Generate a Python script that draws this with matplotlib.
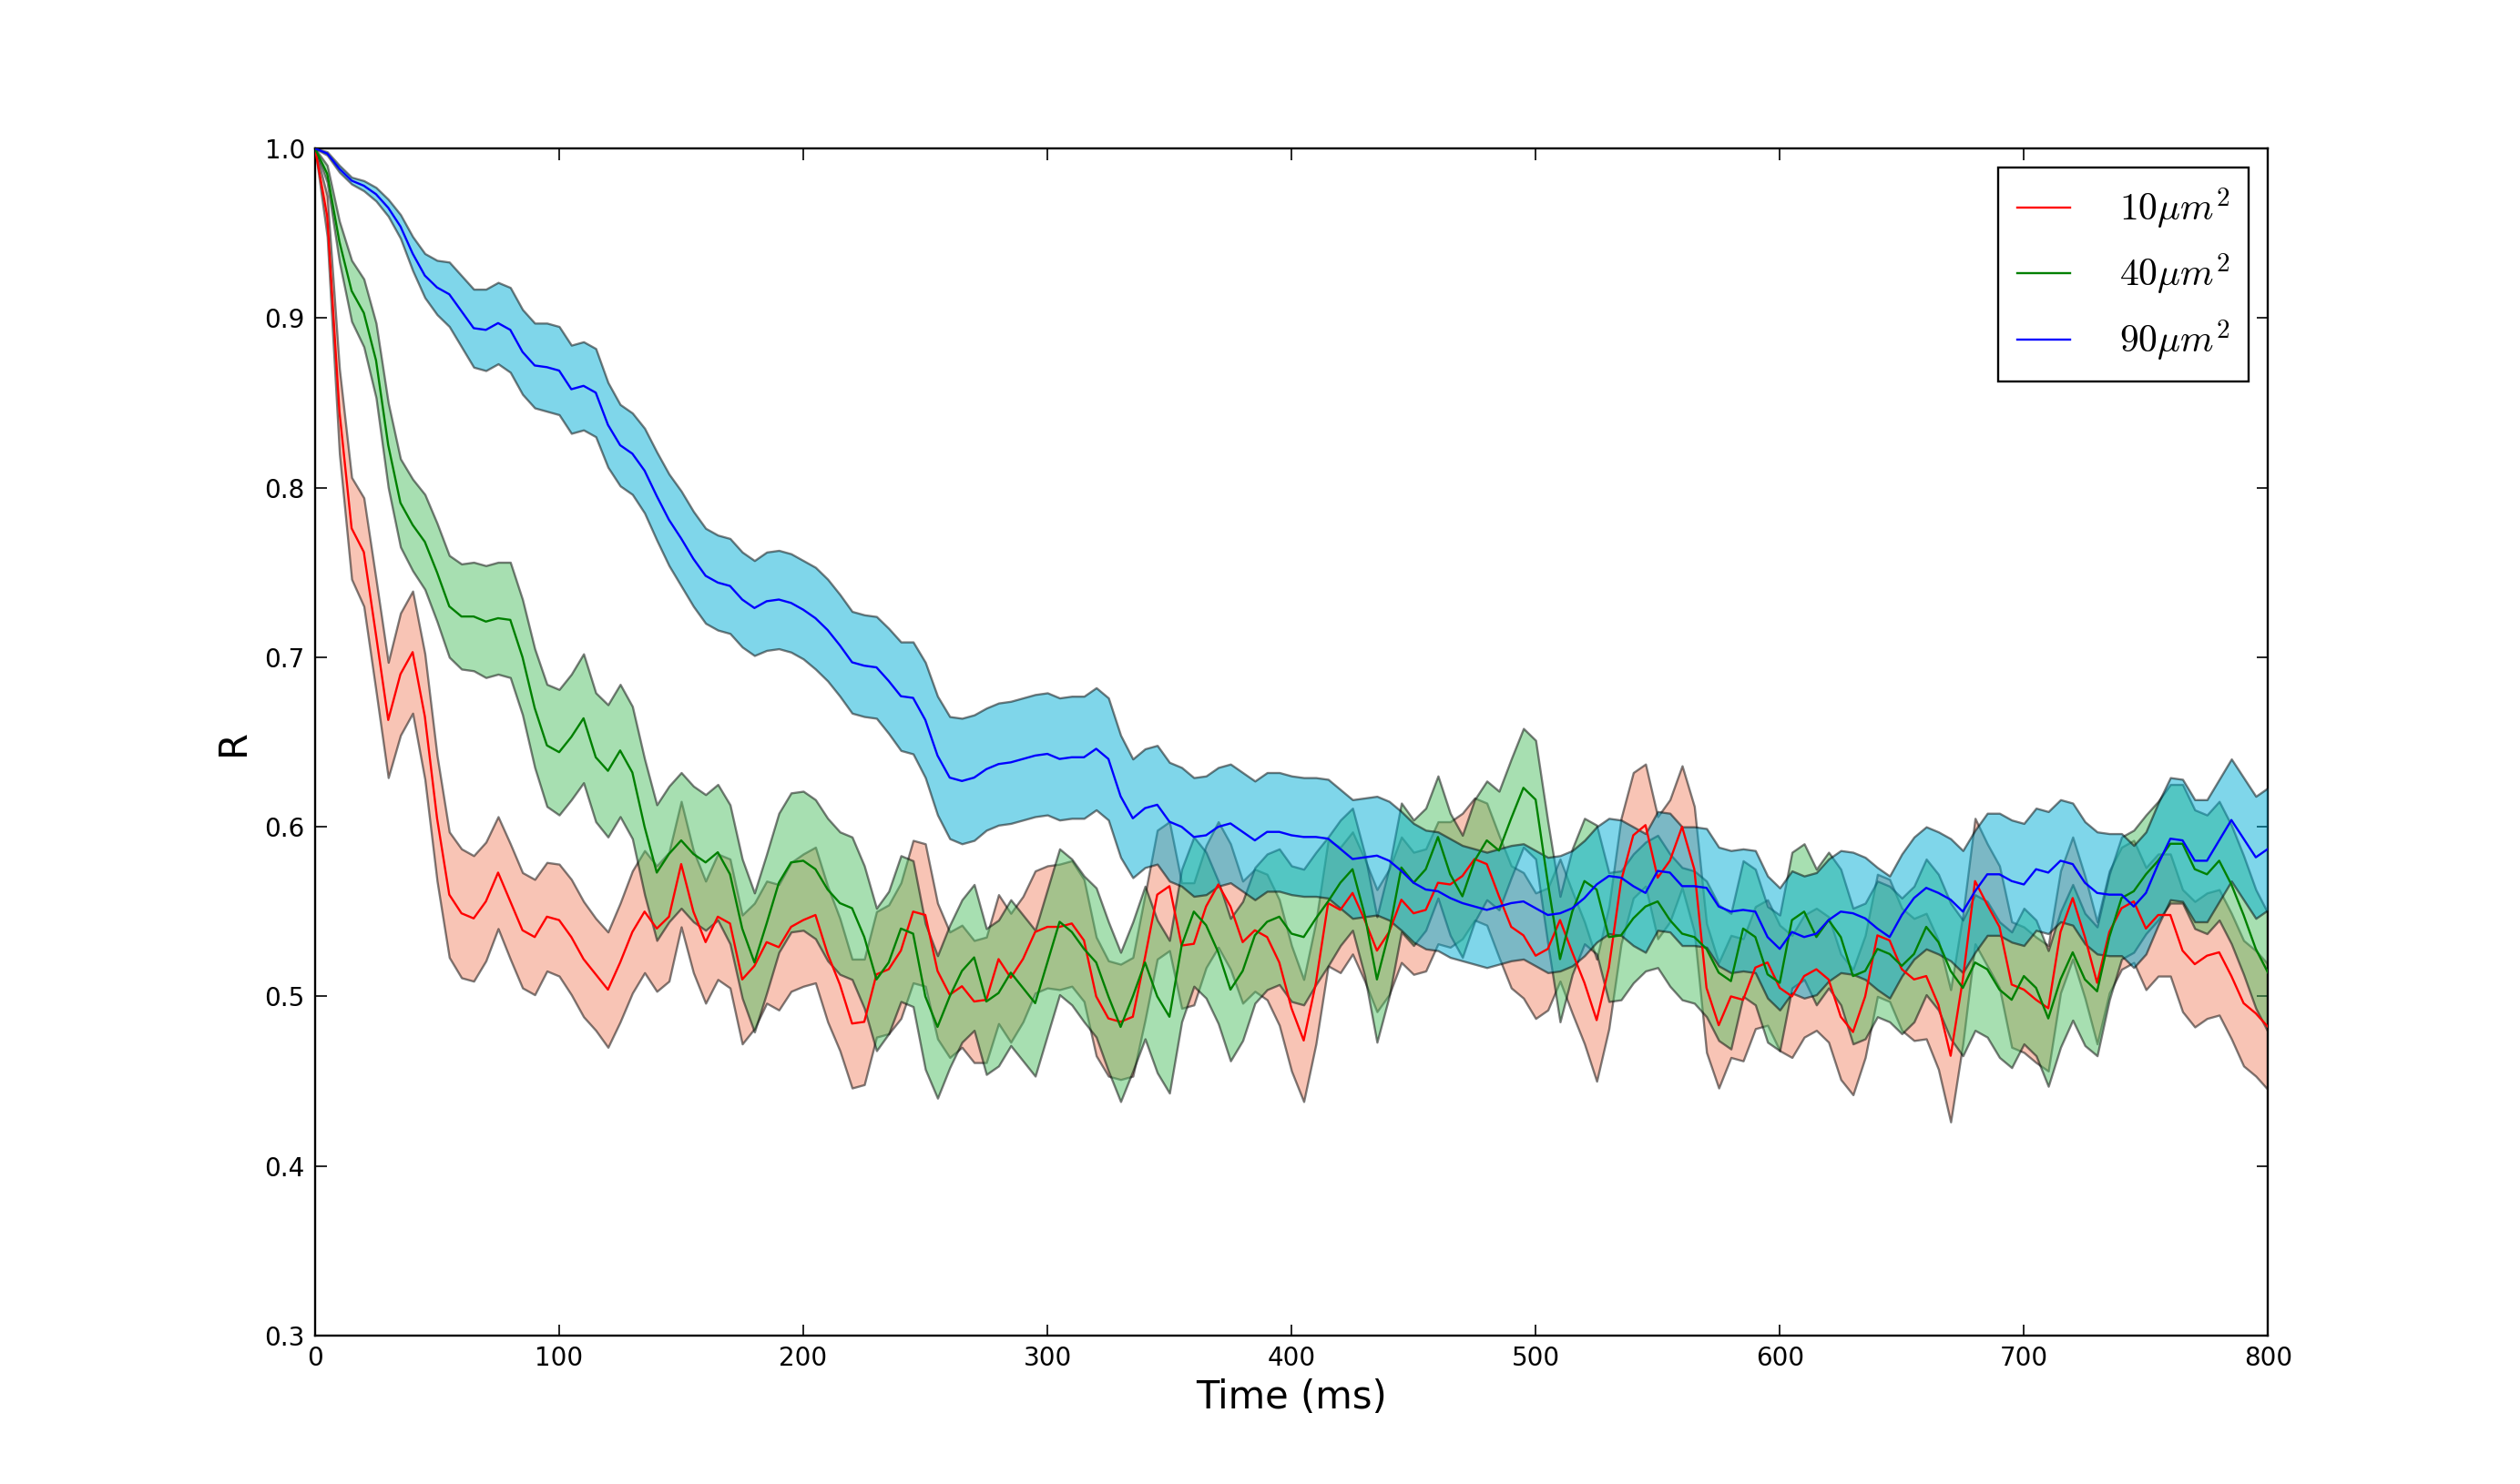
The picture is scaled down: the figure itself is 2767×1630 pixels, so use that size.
import numpy as np
import matplotlib
matplotlib.use('Agg')
import matplotlib.pyplot as plt

# ---------------- data (R vs time, every 5 ms) ----------------
time_ms = list(range(0, 801, 5))

red_mean = [
    1.0, 0.96, 0.845, 0.776, 0.762, 0.713, 0.663, 0.69, 0.703, 0.665,
    0.605, 0.56, 0.549, 0.546, 0.556, 0.573, 0.556, 0.539, 0.535, 0.547,
    0.545, 0.535, 0.522, 0.513, 0.504, 0.52, 0.538, 0.55, 0.54, 0.547,
    0.578, 0.55, 0.532, 0.547, 0.543, 0.51, 0.518, 0.532, 0.529, 0.541,
    0.545, 0.548, 0.525, 0.507, 0.484, 0.485, 0.513, 0.516, 0.527, 0.55,
    0.548, 0.515, 0.501, 0.506, 0.497, 0.498, 0.522, 0.511, 0.522, 0.538,
    0.541, 0.541, 0.543, 0.533, 0.50, 0.487, 0.485, 0.488, 0.523, 0.56,
    0.565, 0.53, 0.531, 0.553, 0.566, 0.553, 0.532, 0.539, 0.535, 0.52,
    0.493, 0.474, 0.508, 0.555, 0.551, 0.561, 0.545, 0.527, 0.538, 0.557,
    0.549, 0.551, 0.567, 0.566, 0.571, 0.581, 0.578, 0.559, 0.541, 0.536,
    0.524, 0.528, 0.545, 0.526, 0.508, 0.486, 0.517, 0.568, 0.595, 0.601,
    0.57, 0.58, 0.60, 0.575, 0.505, 0.483, 0.50, 0.498, 0.517, 0.52,
    0.505, 0.50, 0.512, 0.516, 0.51, 0.488, 0.479, 0.50, 0.536, 0.533,
    0.516, 0.51, 0.512, 0.495, 0.465, 0.51, 0.568, 0.554, 0.541, 0.507,
    0.504, 0.498, 0.493, 0.538, 0.558, 0.535, 0.508, 0.538, 0.552, 0.556,
    0.54, 0.548, 0.548, 0.527, 0.519, 0.524, 0.526, 0.512, 0.496, 0.49,
    0.482,
]
red_err = [
    0.0, 0.012, 0.025, 0.03, 0.032, 0.033, 0.034, 0.036, 0.036, 0.037,
    0.037, 0.037, 0.038, 0.037, 0.035, 0.033, 0.034, 0.034, 0.034, 0.032,
    0.033, 0.034, 0.034, 0.033, 0.034, 0.035, 0.036, 0.036, 0.037, 0.038,
    0.037, 0.036, 0.036, 0.037, 0.038, 0.038, 0.037, 0.036, 0.037, 0.038,
    0.039, 0.04, 0.04, 0.039, 0.038, 0.037, 0.037, 0.038, 0.04, 0.042,
    0.042, 0.04, 0.037, 0.036, 0.036, 0.037, 0.038, 0.038, 0.037, 0.036,
    0.036, 0.037, 0.037, 0.036, 0.035, 0.034, 0.034, 0.035, 0.037, 0.038,
    0.038, 0.037, 0.036, 0.036, 0.037, 0.037, 0.036, 0.036, 0.037, 0.037,
    0.037, 0.036, 0.036, 0.037, 0.037, 0.036, 0.036, 0.036, 0.037, 0.037,
    0.036, 0.036, 0.036, 0.037, 0.037, 0.036, 0.036, 0.036, 0.036, 0.037,
    0.037, 0.036, 0.036, 0.036, 0.036, 0.036, 0.036, 0.037, 0.037, 0.036,
    0.036, 0.036, 0.036, 0.037, 0.038, 0.037, 0.036, 0.036, 0.036, 0.037,
    0.037, 0.036, 0.036, 0.036, 0.037, 0.037, 0.037, 0.036, 0.036, 0.036,
    0.036, 0.036, 0.037, 0.038, 0.039, 0.038, 0.037, 0.036, 0.036, 0.037,
    0.037, 0.037, 0.037, 0.036, 0.036, 0.036, 0.036, 0.036, 0.036, 0.036,
    0.036, 0.036, 0.036, 0.036, 0.037, 0.037, 0.037, 0.037, 0.037, 0.037,
    0.037,
]

green_mean = [
    1.0, 0.985, 0.945, 0.916, 0.903, 0.875, 0.825, 0.791, 0.778, 0.768,
    0.75, 0.73, 0.724, 0.724, 0.721, 0.723, 0.722, 0.70, 0.67, 0.648,
    0.644, 0.653, 0.664, 0.641, 0.633, 0.645, 0.632, 0.60, 0.573, 0.584,
    0.592, 0.584, 0.579, 0.585, 0.572, 0.54, 0.52, 0.543, 0.567, 0.579,
    0.58, 0.575, 0.563, 0.555, 0.552, 0.535, 0.51, 0.52, 0.54, 0.537,
    0.50, 0.482, 0.50, 0.515, 0.523, 0.497, 0.502, 0.514, 0.505, 0.496,
    0.52, 0.544, 0.538, 0.528, 0.52, 0.50, 0.482, 0.50, 0.52, 0.50,
    0.488, 0.53, 0.55, 0.542, 0.526, 0.504, 0.515, 0.536, 0.544, 0.547,
    0.537, 0.535, 0.546, 0.556, 0.567, 0.575, 0.548, 0.51, 0.538, 0.576,
    0.567, 0.575, 0.594, 0.572, 0.559, 0.58, 0.592, 0.586, 0.605, 0.623,
    0.616, 0.567, 0.522, 0.55, 0.568, 0.563, 0.535, 0.536, 0.546, 0.553,
    0.556, 0.545, 0.537, 0.535, 0.528, 0.514, 0.509, 0.54, 0.535, 0.513,
    0.508, 0.545, 0.55, 0.535, 0.545, 0.535, 0.512, 0.515, 0.528, 0.525,
    0.518, 0.525, 0.541, 0.532, 0.515, 0.505, 0.52, 0.516, 0.504, 0.498,
    0.512, 0.505, 0.487, 0.51, 0.526, 0.51, 0.503, 0.535, 0.558, 0.562,
    0.572, 0.58, 0.59, 0.59, 0.575, 0.572, 0.58, 0.566, 0.548, 0.528,
    0.514,
]
green_err = [
    0.0, 0.005, 0.012, 0.018, 0.02, 0.022, 0.025, 0.026, 0.027, 0.028,
    0.029, 0.03, 0.031, 0.032, 0.033, 0.033, 0.034, 0.034, 0.035, 0.036,
    0.037, 0.037, 0.038, 0.038, 0.039, 0.039, 0.039, 0.04, 0.04, 0.04,
    0.04, 0.04, 0.04, 0.04, 0.041, 0.041, 0.041, 0.041, 0.041, 0.041,
    0.041, 0.041, 0.042, 0.042, 0.042, 0.042, 0.042, 0.042, 0.043, 0.043,
    0.043, 0.042, 0.042, 0.042, 0.043, 0.043, 0.043, 0.043, 0.043, 0.043,
    0.043, 0.043, 0.043, 0.043, 0.044, 0.044, 0.044, 0.044, 0.045, 0.045,
    0.045, 0.045, 0.044, 0.043, 0.042, 0.042, 0.041, 0.04, 0.04, 0.04,
    0.04, 0.04, 0.039, 0.038, 0.037, 0.036, 0.036, 0.037, 0.038, 0.038,
    0.037, 0.036, 0.036, 0.036, 0.036, 0.036, 0.035, 0.035, 0.035, 0.035,
    0.035, 0.036, 0.037, 0.037, 0.037, 0.038, 0.038, 0.038, 0.038, 0.038,
    0.039, 0.039, 0.039, 0.039, 0.04, 0.04, 0.04, 0.04, 0.04, 0.04,
    0.04, 0.04, 0.04, 0.04, 0.04, 0.04, 0.04, 0.04, 0.04, 0.04,
    0.04, 0.04, 0.04, 0.04, 0.04, 0.04, 0.04, 0.04, 0.04, 0.04,
    0.04, 0.04, 0.04, 0.04, 0.04, 0.039, 0.038, 0.037, 0.036, 0.036,
    0.035, 0.035, 0.035, 0.035, 0.035, 0.035, 0.035, 0.035, 0.035, 0.035,
    0.035,
]

blue_mean = [
    1.0, 0.997, 0.988, 0.981, 0.978, 0.973, 0.965, 0.954, 0.938, 0.925,
    0.918, 0.914, 0.904, 0.894, 0.893, 0.897, 0.893, 0.88, 0.872, 0.871,
    0.869, 0.858, 0.86, 0.856, 0.837, 0.825, 0.82, 0.81, 0.795, 0.781,
    0.77, 0.758, 0.748, 0.744, 0.742, 0.734, 0.729, 0.733, 0.734, 0.732,
    0.728, 0.723, 0.716, 0.707, 0.697, 0.695, 0.694, 0.686, 0.677, 0.676,
    0.663, 0.642, 0.629, 0.627, 0.629, 0.634, 0.637, 0.638, 0.64, 0.642,
    0.643, 0.64, 0.641, 0.641, 0.646, 0.64, 0.618, 0.605, 0.611, 0.613,
    0.603, 0.60, 0.594, 0.595, 0.60, 0.602, 0.597, 0.592, 0.597, 0.597,
    0.595, 0.594, 0.594, 0.593, 0.587, 0.581, 0.582, 0.583, 0.58, 0.574,
    0.567, 0.563, 0.562, 0.558, 0.555, 0.553, 0.551, 0.553, 0.555, 0.556,
    0.552, 0.548, 0.549, 0.552, 0.558, 0.566, 0.571, 0.57, 0.565, 0.561,
    0.574, 0.573, 0.565, 0.565, 0.564, 0.553, 0.55, 0.551, 0.55, 0.535,
    0.528, 0.538, 0.535, 0.537, 0.545, 0.55, 0.549, 0.546, 0.54, 0.535,
    0.548, 0.558, 0.564, 0.561, 0.557, 0.55, 0.562, 0.572, 0.572, 0.568,
    0.566, 0.575, 0.573, 0.58, 0.578, 0.567, 0.561, 0.56, 0.56, 0.553,
    0.561, 0.578, 0.593, 0.592, 0.58, 0.58, 0.592, 0.604, 0.593, 0.582,
    0.587,
]
blue_err = [
    0.0, 0.001, 0.002, 0.002, 0.003, 0.004, 0.005, 0.007, 0.01, 0.013,
    0.016, 0.019, 0.021, 0.023, 0.024, 0.024, 0.025, 0.025, 0.025, 0.026,
    0.026, 0.026, 0.026, 0.026, 0.025, 0.024, 0.024, 0.025, 0.026, 0.027,
    0.028, 0.028, 0.028, 0.028, 0.028, 0.028, 0.028, 0.029, 0.029, 0.029,
    0.029, 0.03, 0.03, 0.03, 0.03, 0.03, 0.03, 0.031, 0.032, 0.033,
    0.034, 0.035, 0.036, 0.037, 0.037, 0.036, 0.036, 0.036, 0.036, 0.036,
    0.036, 0.036, 0.036, 0.036, 0.036, 0.036, 0.036, 0.035, 0.035, 0.035,
    0.035, 0.035, 0.035, 0.035, 0.035, 0.035, 0.035, 0.035, 0.035, 0.035,
    0.035, 0.035, 0.035, 0.035, 0.035, 0.035, 0.035, 0.035, 0.035, 0.035,
    0.035, 0.035, 0.035, 0.035, 0.034, 0.034, 0.034, 0.034, 0.034, 0.034,
    0.034, 0.034, 0.034, 0.034, 0.034, 0.034, 0.034, 0.034, 0.035, 0.035,
    0.035, 0.035, 0.035, 0.035, 0.035, 0.035, 0.036, 0.036, 0.036, 0.036,
    0.036, 0.036, 0.036, 0.036, 0.036, 0.036, 0.036, 0.036, 0.036, 0.036,
    0.036, 0.036, 0.036, 0.036, 0.036, 0.036, 0.036, 0.036, 0.036, 0.036,
    0.036, 0.036, 0.036, 0.036, 0.036, 0.036, 0.036, 0.036, 0.036, 0.036,
    0.036, 0.036, 0.036, 0.036, 0.036, 0.036, 0.036, 0.036, 0.036, 0.036,
    0.036,
]

labels = [r'$10\mu m^2$', r'$40\mu m^2$', r'$90\mu m^2$']
x_ticks = [0, 100, 200, 300, 400, 500, 600, 700, 800]
y_ticks = [0.3, 0.4, 0.5, 0.6, 0.7, 0.8, 0.9, 1.0]
y_tick_labels = ['0.3', '0.4', '0.5', '0.6', '0.7', '0.8', '0.9', '1.0']

# ---------------- plotting ----------------
plt.rcParams['mathtext.fontset'] = 'cm'

fig = plt.figure(figsize=(27.67, 16.30), dpi=100)
ax = fig.add_axes([0.125, 0.1, 0.775, 0.8])

t = np.array(time_ms, dtype=float)
series = [
    (np.array(red_mean), np.array(red_err), '#ff0000', '#f38b6d'),
    (np.array(green_mean), np.array(green_err), '#008000', '#51c165'),
    (np.array(blue_mean), np.array(blue_err), '#0000ff', '#00aed6'),
]

for i, (m, e, lc, fc) in enumerate(series):
    ax.fill_between(t, m - e, m + e, facecolor=fc, edgecolor='black',
                    linewidth=1.7, alpha=0.5, zorder=1 + i)
for (m, e, lc, fc), lab in zip(series, labels):
    ax.plot(t, m, color=lc, linewidth=1.7, label=lab, zorder=5)

ax.set_xlim(0, 800)
ax.set_ylim(0.3, 1.0)
ax.set_xticks(x_ticks)
ax.set_xticklabels([str(v) for v in x_ticks])
ax.set_yticks(y_ticks)
ax.set_yticklabels(y_tick_labels)
ax.tick_params(direction='in', top=True, right=True, length=9, width=1.2,
               labelsize=20, pad=8, colors='black')
for sp in ax.spines.values():
    sp.set_linewidth(1.7)

ax.set_xlabel('Time (ms)', fontsize=30, labelpad=6)
ax.set_ylabel('R', fontsize=30, labelpad=10)

leg = ax.legend(loc='upper right', fontsize=30, frameon=True, fancybox=False,
                edgecolor='black', framealpha=1.0, handlelength=1.4,
                handletextpad=1.3, labelspacing=0.55, borderpad=0.5,
                borderaxespad=0.5)
leg.get_frame().set_linewidth(1.7)

fig.savefig('out.png', dpi=100, facecolor='white')
